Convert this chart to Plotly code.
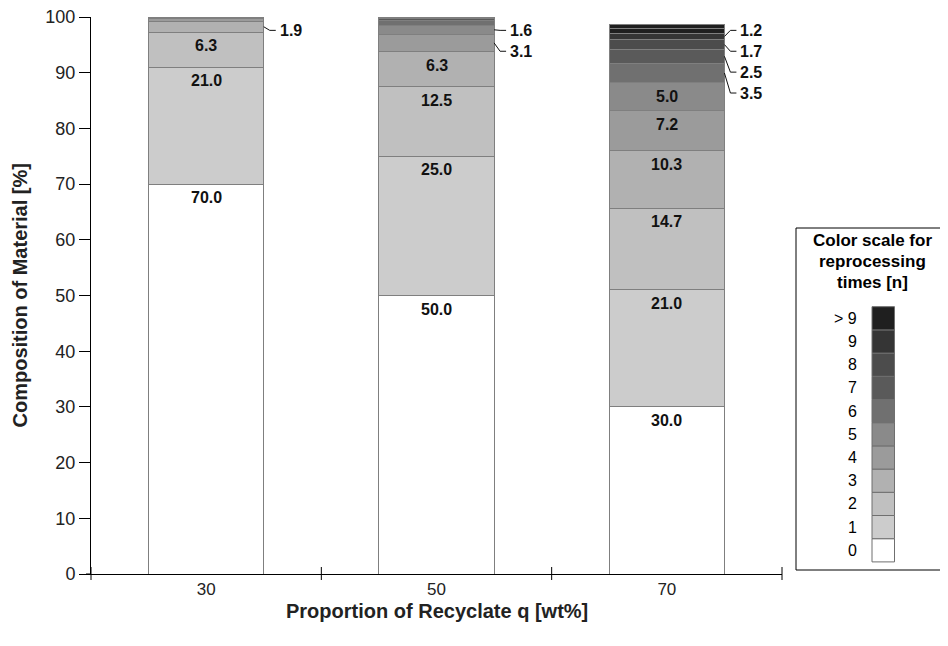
import plotly.graph_objects as go

# ---------------- data ----------------
categories = ["30", "50", "70"]
levels = ["0", "1", "2", "3", "4", "5", "6", "7", "8", "9", "> 9"]
level_colors = ["#ffffff", "#cccccc", "#c0c0c0", "#b1b1b1", "#9b9b9b", "#8a8a8a",
                "#707070", "#5a5a5a", "#4c4c4c", "#353535", "#1f1f1f"]

# share of material per reprocessing count (stack layers from bottom); layers beyond "9" are "> 9"
q30 = [70.0, 21.0, 6.3, 1.9, 0.6, 0.2, 0.05, None, None, None, None, None]
q50 = [50.0, 25.0, 12.5, 6.3, 3.1, 1.6, 0.8, 0.4, 0.2, 0.1, 0.1, None]
q70 = [30.0, 21.0, 14.7, 10.3, 7.2, 5.0, 3.5, 2.5, 1.7, 1.2, 0.9, 0.6]
series = [q30, q50, q70]

y_ticks = [0, 10, 20, 30, 40, 50, 60, 70, 80, 90, 100]
x_title = "Proportion of Recyclate q [wt%]"
y_title = "Composition of Material [%]"
legend_title = ["Color scale for", "reprocessing", "times [n]"]

FONT = "Arial, Liberation Sans, sans-serif"
W, H = 948, 646
OFF = 8  # page body margin in the browser
# plot area in screenshot pixels
P_L, P_R, P_T, P_B = 91, 782, 17, 574
ML, MT = P_L - OFF, P_T - OFF
MR, MB = W - (P_R - OFF), H - (P_B - OFF)
PW = P_R - P_L
PH = P_B - P_T


def px2paper_x(px):
    return (px - P_L) / PW


def px2paper_y(py):
    return (P_B - py) / PH


fig = go.Figure()
n_layers = len(q30)
for k in range(n_layers):
    col = level_colors[min(k, len(level_colors) - 1)]
    fig.add_trace(go.Bar(
        x=categories,
        y=[s[k] for s in series],
        marker=dict(color=col, line=dict(color="#7f7f7f", width=1)),
        width=0.5,
        showlegend=False,
        hoverinfo="skip",
    ))

annotations = []
shapes = []

# value labels
for ci, s in enumerate(series):
    cum = 0.0
    callouts = []
    for k, v in enumerate(s):
        if v is None:
            continue
        bottom = cum
        cum += v
        if v >= 5:
            annotations.append(dict(
                x=ci, y=cum, xref="x", yref="y", text=f"<b>{v:.1f}</b>",
                showarrow=False, yanchor="top", yshift=-3,
                font=dict(family=FONT, size=16, color="#111111")))
        elif v >= 1.0:
            callouts.append((bottom + v / 2, v))
    callouts.sort(key=lambda t: -t[0])
    edge_px = P_L + (ci + 0.5) / 3 * PW + 0.25 * PW / 3
    label_y = 97.6
    for center, v in callouts:
        xe = px2paper_x(edge_px)
        xm = px2paper_x(edge_px + 6)
        xl = px2paper_x(edge_px + 12)
        shapes.append(dict(type="line", xref="paper", yref="y", x0=xe, y0=center,
                           x1=xm, y1=label_y, line=dict(color="#111111", width=1)))
        shapes.append(dict(type="line", xref="paper", yref="y", x0=xm, y0=label_y,
                           x1=xl, y1=label_y, line=dict(color="#111111", width=1)))
        annotations.append(dict(
            x=px2paper_x(edge_px + 14), y=label_y, xref="paper", yref="y",
            text=f"<b>{v:.1f}</b>", showarrow=False, xanchor="left", yanchor="middle",
            font=dict(family=FONT, size=16, color="#111111")))
        label_y -= 3.75

# x-axis ticks crossing the axis line at category boundaries
n_cat = len(categories)
for b in range(n_cat + 1):
    xb = b / n_cat
    shapes.append(dict(type="line", xref="paper", yref="paper", x0=xb, x1=xb,
                       y0=px2paper_y(P_B + 6), y1=px2paper_y(P_B - 7),
                       line=dict(color="#000000", width=1)))
# small extension of the x axis line to the left of the y axis
shapes.append(dict(type="line", xref="paper", yref="paper", x0=px2paper_x(P_L - 5), x1=0,
                   y0=0, y1=0, line=dict(color="#000000", width=1)))

# axis titles
annotations.append(dict(x=0.5, y=px2paper_y(611), xref="paper", yref="paper",
                        text=f"<b>{x_title}</b>", showarrow=False, xanchor="center", yanchor="middle",
                        font=dict(family=FONT, size=20, color="#222222")))
annotations.append(dict(x=px2paper_x(19), y=0.5, xref="paper", yref="paper",
                        text=f"<b>{y_title}</b>", showarrow=False, textangle=-90,
                        xanchor="center", yanchor="middle",
                        font=dict(family=FONT, size=20, color="#222222")))

# colour-scale legend box
box_l, box_r, box_t, box_b = 796, 970, 228, 570
shapes.append(dict(type="rect", xref="paper", yref="paper",
                   x0=px2paper_x(box_l), x1=px2paper_x(box_r),
                   y0=px2paper_y(box_b), y1=px2paper_y(box_t),
                   line=dict(color="#000000", width=1), fillcolor="rgba(0,0,0,0)"))
for li, line_txt in enumerate(legend_title):
    annotations.append(dict(
        x=px2paper_x(872), y=px2paper_y(241 + li * 20.5), xref="paper", yref="paper",
        text=f"<b>{line_txt}</b>", showarrow=False, xanchor="center", yanchor="middle",
        font=dict(family=FONT, size=17, color="#000000")))
sw_l, sw_r, sw_top, sw_h = 872, 894.5, 306.7, 23.2
n_lv = len(levels)
for i, (lab, col) in enumerate(zip(levels, level_colors)):
    top = sw_top + (n_lv - 1 - i) * sw_h
    shapes.append(dict(type="rect", xref="paper", yref="paper",
                       x0=px2paper_x(sw_l), x1=px2paper_x(sw_r),
                       y0=px2paper_y(top + sw_h), y1=px2paper_y(top),
                       line=dict(color="#6f6f6f", width=1), fillcolor=col))
    annotations.append(dict(
        x=px2paper_x(859), y=px2paper_y(top + sw_h / 2), xref="paper", yref="paper",
        text=lab, showarrow=False, xanchor="right", yanchor="middle",
        font=dict(family=FONT, size=16, color="#000000")))

fig.update_layout(
    width=W, height=H,
    margin=dict(l=ML, r=MR, t=MT, b=MB, pad=0, autoexpand=False),
    barmode="stack",
    plot_bgcolor="#ffffff", paper_bgcolor="#ffffff",
    font=dict(family=FONT, size=16, color="#000000"),
    xaxis=dict(
        type="category", range=[-0.5, 2.5], automargin=False,
        showline=True, linecolor="#000000", linewidth=1,
        ticks="outside", ticklen=3, tickcolor="rgba(0,0,0,0)", tickson="boundaries",
        showgrid=False, zeroline=False,
        tickfont=dict(family=FONT, size=17, color="#222222"),
    ),
    yaxis=dict(
        range=[0, 100], tickvals=y_ticks, automargin=False,
        showline=True, linecolor="#000000", linewidth=1,
        ticks="outside", ticklen=11, tickcolor="#000000",
        ticklabeloverflow="allow",
        showgrid=False, zeroline=False,
        tickfont=dict(family=FONT, size=18, color="#222222"),
    ),
    annotations=annotations,
    shapes=shapes,
)

fig.write_html("out.html")
